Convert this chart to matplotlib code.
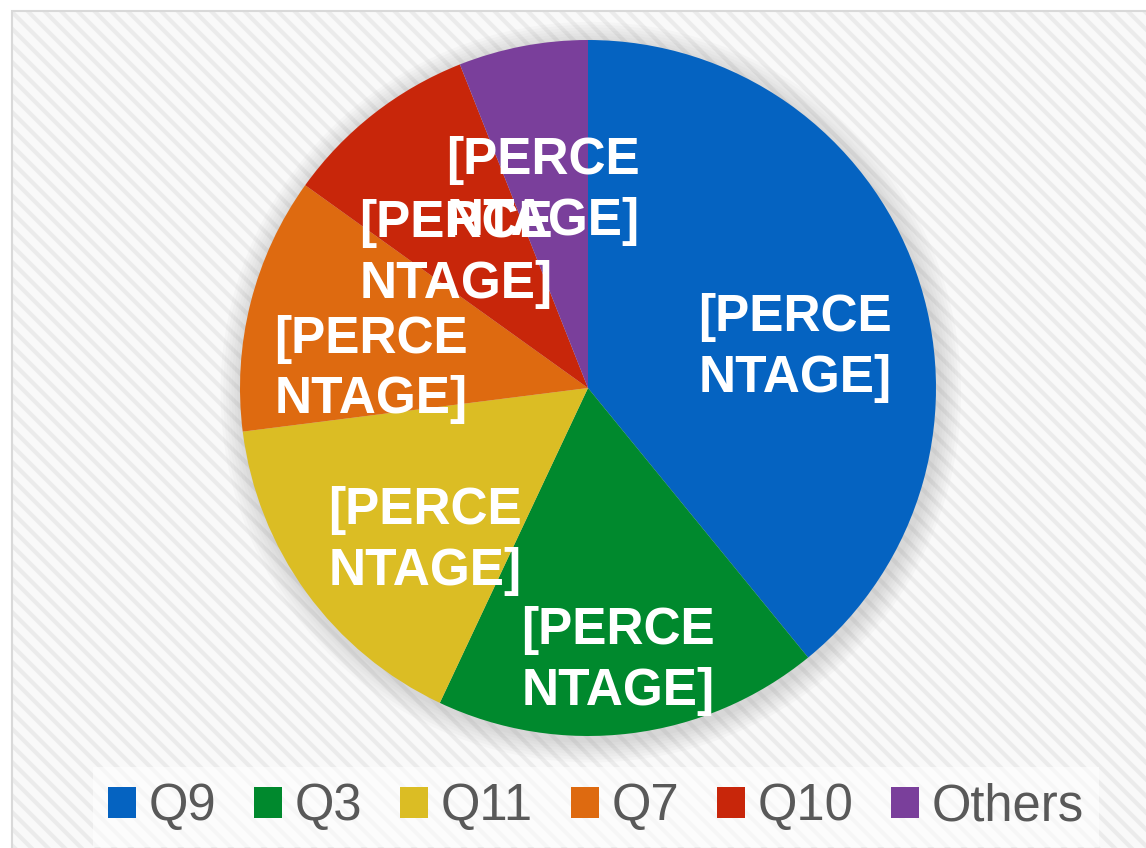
import matplotlib
matplotlib.use("Agg")
import matplotlib.pyplot as plt
from matplotlib.patches import Rectangle, Patch, Circle

# data (share of questions)
labels = ["Q9", "Q3", "Q11", "Q7", "Q10", "Others"]
shares = [39.1, 17.9, 16.0, 11.9, 9.1, 6.0]
colors = ["#0563C1", "#00892D", "#DBBD24", "#DE6A10", "#C8260A", "#7A3F9B"]
label_text = "[PERCE\nNTAGE]"

# label anchors in pie units (layout only)
label_pos = [(0.595, 0.115), (0.086, -0.785), (-0.468, -0.44),
             (-0.624, 0.054), (-0.379, 0.385), (-0.129, 0.566)]

plt.rcParams["font.family"] = ["Liberation Sans", "DejaVu Sans"]
plt.rcParams["hatch.linewidth"] = 3.0

W, H = 1146, 848
fig = plt.figure(figsize=(W / 100, H / 100), dpi=100)
fig.patch.set_facecolor("white")

# striped chart-area background
bg = Rectangle((12 / W, 0), 1, 1 - 11 / H, transform=fig.transFigure,
               facecolor="#F9F9F9", edgecolor="#EBEBEB", hatch="\\\\",
               linewidth=0, zorder=-10)
fig.patches.append(bg)
border = Rectangle((12 / W, -0.01), 1, 1 - 11 / H + 0.01, transform=fig.transFigure,
                   facecolor="none", edgecolor="#D9D9D9", linewidth=1.5, zorder=-9)
fig.patches.append(border)

cx, cy, r = 588, 388, 348
ax = fig.add_axes([(cx - r) / W, (H - cy - r) / H, 2 * r / W, 2 * r / H])
ax.patch.set_alpha(0)

# soft shadow
for k in range(8):
    ax.add_patch(Circle((0.008, -0.012), 1.0 + 0.008 * (k + 1), color="#808080",
                        alpha=0.035, lw=0, zorder=1, clip_on=False))

ax.pie(shares, colors=colors, startangle=90, counterclock=False, radius=1.0,
       wedgeprops=dict(linewidth=0, zorder=2))
ax.set_xlim(-1, 1)
ax.set_ylim(-1, 1)
ax.set_aspect("equal")
ax.axis("off")

for (x, y) in label_pos:
    ax.text(x, y, label_text, ha="center", va="center", color="white",
            fontsize=37, fontweight="bold", linespacing=1.3, zorder=5)

handles = [Patch(facecolor=c, edgecolor="none") for c in colors]
leg = fig.legend(handles, labels, loc="center", ncol=6,
                 bbox_to_anchor=(596 / W, 1 - 807 / H),
                 fontsize=36.5, frameon=True, handlelength=0.55, handleheight=0.55,
                 handletextpad=0.25, columnspacing=0.75, borderpad=0.3)
for t in leg.get_texts():
    t.set_color("#595959")
frame = leg.get_frame()
frame.set_facecolor("white")
frame.set_alpha(0.6)
frame.set_edgecolor("none")
frame.set_boxstyle("square", pad=0)

fig.savefig("out.png", dpi=100)
